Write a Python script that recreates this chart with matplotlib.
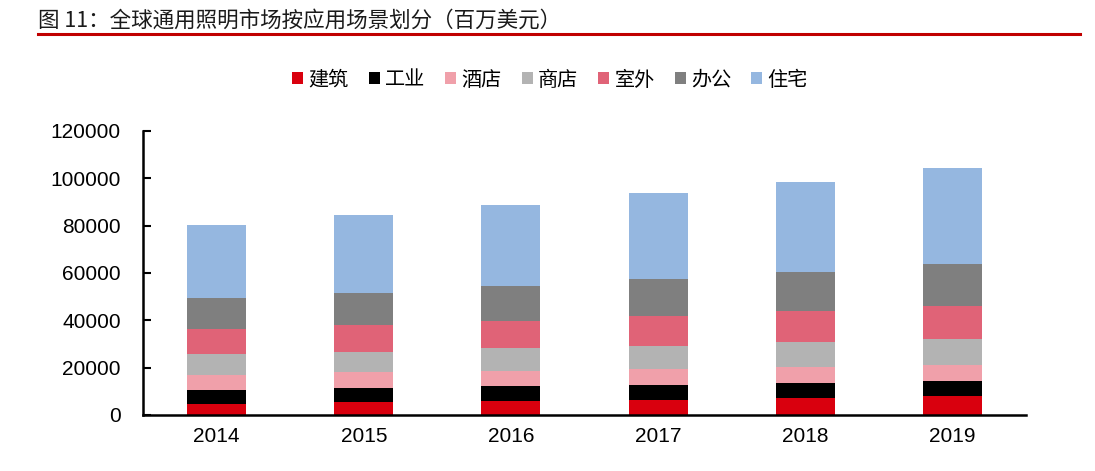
import matplotlib
matplotlib.use("Agg")
import matplotlib.pyplot as plt
from matplotlib.lines import Line2D
import numpy as np

plt.rcParams['font.family'] = ['Liberation Sans', 'Noto Sans CJK SC', 'DejaVu Sans']

years = ["2014", "2015", "2016", "2017", "2018", "2019"]
series_names = ["建筑", "工业", "酒店", "商店", "室外", "办公", "住宅"]
jianzhu = [4800, 5350, 6050, 6480, 7150, 7870]
gongye = [5900, 6050, 6050, 6120, 6350, 6330]
jiudian = [6400, 6600, 6600, 6900, 6900, 7100]
shangdian = [8700, 8800, 9500, 9800, 10300, 11000]
shiwai = [10600, 11400, 11700, 12500, 13400, 13900]
bangong = [12900, 13500, 14600, 15700, 16500, 17800]
zhuzhai = [31000, 32700, 34300, 36200, 37900, 40200]
yticks = [0, 20000, 40000, 60000, 80000, 100000, 120000]

series = [jianzhu, gongye, jiudian, shangdian, shiwai, bangong, zhuzhai]
colors = ["#d9000e", "#000000", "#f0a0aa", "#b3b3b3", "#e06377", "#7f7f7f", "#95b7e0"]

fig = plt.figure(figsize=(10.95, 4.71), dpi=100)
ax = fig.add_axes([143/1095, 56/471, 883/1095, 284/471])

x = np.arange(len(years))
bottom = np.zeros(len(years))
for name, vals, c in zip(series_names, series, colors):
    ax.bar(x, vals, width=0.4, bottom=bottom, color=c, label=name, linewidth=0)
    bottom += np.array(vals)

ax.set_xlim(-0.5, len(years) - 0.5)
ax.set_ylim(0, 120000)
ax.set_yticks(yticks)
ax.set_yticklabels([str(v) for v in yticks])
ax.set_xticks(x)
ax.set_xticklabels(years)
ax.tick_params(axis='y', direction='in', length=6, width=1.5, pad=16, labelsize=15)
ax.tick_params(axis='x', length=0, pad=9, labelsize=15)
for s in ['top', 'right']:
    ax.spines[s].set_visible(False)
for s in ['left', 'bottom']:
    ax.spines[s].set_linewidth(1.8)
    ax.spines[s].set_color('black')

# Title and red rule
fig.text(38/1095, 1 - 21/471, "图 11：全球通用照明市场按应用场景划分（百万美元）",
         fontsize=15.5, family=['Noto Sans CJK SC', 'DejaVu Sans'], va='center', ha='left', color='#1a1a1a')
fig.add_artist(Line2D([38/1095, 1080/1095], [1 - 34/471, 1 - 34/471],
                      transform=fig.transFigure, color='#c00000', linewidth=2.2))

leg = fig.legend(*ax.get_legend_handles_labels(), loc='center', bbox_to_anchor=(550/1095, 1 - 80/471),
                 ncol=7, frameon=False, handlelength=0.55, handleheight=0.55, handletextpad=0.25,
                 columnspacing=1.0, prop={'family': ['Noto Sans CJK SC', 'DejaVu Sans'], 'size': 14.5})

fig.savefig("out.png", dpi=100)
